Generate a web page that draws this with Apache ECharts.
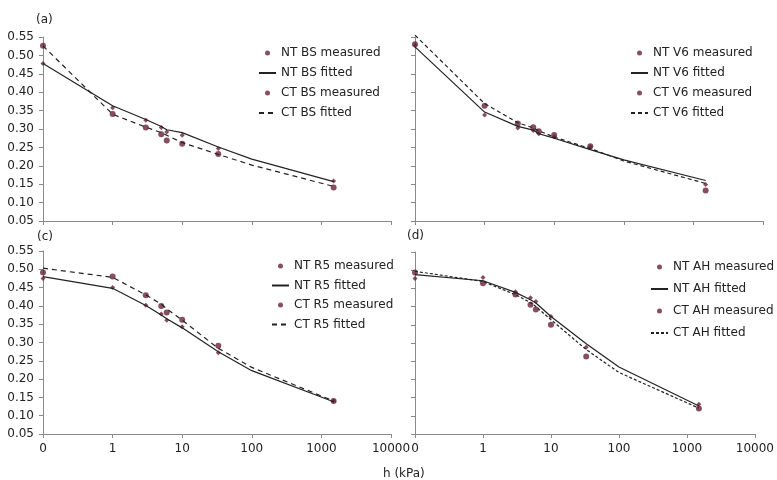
<!DOCTYPE html>
<html>
<head>
<meta charset="utf-8">
<script src="https://cdn.jsdelivr.net/npm/echarts@6/dist/echarts.min.js"></script>
<style>
  html, body { margin: 0; padding: 0; background: #fff; }
  #chart { width: 777px; height: 480px; }
</style>
</head>
<body>
<div id="chart"></div>
<script>
// pressure heads (kPa); 0 is drawn one decade below 1
const hMeasured = [0, 1, 3, 5, 6, 10, 33, 1500]
const hFitted = [0, 1, 3, 5, 6, 10, 33, 100, 1500]

// (a) BS
const ntBsMeasured = [0.478, 0.358, 0.324, 0.304, 0.292, 0.283, 0.247, 0.159]
const ntBsFitted = [0.478, 0.363, 0.326, 0.307, 0.298, 0.290, 0.251, 0.218, 0.157]
const ctBsMeasured = [0.526, 0.341, 0.304, 0.286, 0.269, 0.260, 0.232, 0.141]
const ctBsFitted = [0.526, 0.340, 0.305, 0.290, 0.283, 0.263, 0.231, 0.202, 0.144]

// (b) V6
const ntV6Measured = [0.527, 0.338, 0.303, 0.296, 0.287, 0.279, 0.252, 0.149]
const ntV6Fitted = [0.523, 0.346, 0.307, 0.297, 0.287, 0.275, 0.244, 0.216, 0.160]
const ctV6Measured = [0.530, 0.363, 0.315, 0.305, 0.294, 0.284, 0.253, 0.133]
const ctV6Fitted = [0.555, 0.369, 0.317, 0.303, 0.295, 0.278, 0.247, 0.213, 0.152]

// (c) R5
const ntR5Measured = [0.475, 0.450, 0.402, 0.378, 0.361, 0.343, 0.272, 0.140]
const ntR5Fitted = [0.480, 0.448, 0.401, 0.375, 0.365, 0.340, 0.275, 0.223, 0.138]
const ctR5Measured = [0.491, 0.480, 0.429, 0.400, 0.382, 0.362, 0.291, 0.140]
const ctR5Fitted = [0.503, 0.478, 0.430, 0.405, 0.392, 0.361, 0.284, 0.232, 0.140]

// (d) AH
const ntAhMeasured = [0.477, 0.480, 0.441, 0.424, 0.414, 0.373, 0.288, 0.132]
const ntAhFitted = [0.488, 0.471, 0.439, 0.419, 0.410, 0.373, 0.298, 0.234, 0.127]
const ctAhMeasured = [0.494, 0.464, 0.433, 0.405, 0.392, 0.350, 0.263, 0.120]
const ctAhFitted = [0.497, 0.469, 0.433, 0.411, 0.400, 0.364, 0.282, 0.219, 0.121]

const xTickLabels = ['0', '1', '10', '100', '1000', '10000']

const panels = [
  { code: 'BS', ntM: ntBsMeasured, ntF: ntBsFitted, ctM: ctBsMeasured, ctF: ctBsFitted, dash: [5, 4] },
  { code: 'V6', ntM: ntV6Measured, ntF: ntV6Fitted, ctM: ctV6Measured, ctF: ctV6Fitted, dash: [4, 3] },
  { code: 'R5', ntM: ntR5Measured, ntF: ntR5Fitted, ctM: ctR5Measured, ctF: ctR5Fitted, dash: [5, 4] },
  { code: 'AH', ntM: ntAhMeasured, ntF: ntAhFitted, ctM: ctAhMeasured, ctF: ctAhFitted, dash: [3, 2] },
]

const grids = [
  { left: 43, top: 37, width: 348, height: 184 },
  { left: 415, top: 37, width: 348, height: 184 },
  { left: 43, top: 251, width: 348, height: 183 },
  { left: 415, top: 252, width: 348, height: 182 },
]

const legendPos = [
  { left: 258, top: 47, itemGap: 8 },
  { left: 630, top: 47, itemGap: 8 },
  { left: 271, top: 260, itemGap: 7.5 },
  { left: 650, top: 261, itemGap: 10 },
]

const FONT = 'DejaVu Sans'
const MARK = '#66223a'
const LINE = '#222'
const AXIS = '#8a8a8a'

// log axis can't take 0, so h = 0 sits at 0.1
const toX = (h) => (h === 0 ? 0.1 : h)
const pairs = (hs, vs) => hs.map((h, i) => [toX(h), vs[i]])

const xAxes = grids.map((g, i) => ({
  type: 'log',
  logBase: 10,
  gridIndex: i,
  min: 0.1,
  max: 10000,
  axisLine: { lineStyle: { color: AXIS, width: 1 } },
  axisTick: { show: true, length: 4, lineStyle: { color: AXIS } },
  minorTick: { show: false },
  splitLine: { show: false },
  axisLabel: {
    show: i >= 2,
    margin: 9,
    color: '#222',
    fontFamily: FONT,
    fontSize: 12,
    formatter: (v) => xTickLabels[Math.round(Math.log10(v)) + 1],
  },
}))

const yAxes = grids.map((g, i) => ({
  type: 'value',
  gridIndex: i,
  min: 0.05,
  max: 0.55,
  interval: 0.05,
  axisLine: { show: true, lineStyle: { color: AXIS, width: 1 } },
  axisTick: { show: true, length: 4, lineStyle: { color: AXIS } },
  splitLine: { show: false },
  axisLabel: {
    show: i % 2 === 0,
    margin: 9,
    color: '#222',
    fontFamily: FONT,
    fontSize: 12,
    formatter: (v) => v.toFixed(2),
  },
}))

const noSymbol = { color: 'rgba(0,0,0,0)', borderWidth: 0, opacity: 0 }

const series = []
const legends = []
panels.forEach((p, i) => {
  const names = [
    `NT ${p.code} measured`,
    `NT ${p.code} fitted`,
    `CT ${p.code} measured`,
    `CT ${p.code} fitted`,
  ]
  series.push(
    {
      name: names[1], type: 'line', xAxisIndex: i, yAxisIndex: i,
      data: pairs(hFitted, p.ntF), symbol: 'none', clip: false,
      lineStyle: { color: LINE, width: 1.2 }, itemStyle: { color: LINE },
    },
    {
      name: names[3], type: 'line', xAxisIndex: i, yAxisIndex: i,
      data: pairs(hFitted, p.ctF), symbol: 'none', clip: false,
      lineStyle: { color: LINE, width: 1.2, type: p.dash }, itemStyle: { color: LINE },
    },
    {
      name: names[0], type: 'scatter', xAxisIndex: i, yAxisIndex: i,
      data: pairs(hMeasured, p.ntM), symbol: 'diamond', symbolSize: 5,
      itemStyle: { color: MARK },
    },
    {
      name: names[2], type: 'scatter', xAxisIndex: i, yAxisIndex: i,
      data: pairs(hMeasured, p.ctM), symbol: 'circle', symbolSize: 6,
      itemStyle: { color: MARK },
    }
  )
  legends.push({
    orient: 'vertical',
    left: legendPos[i].left,
    top: legendPos[i].top,
    padding: 0,
    itemGap: legendPos[i].itemGap,
    itemWidth: 17,
    itemHeight: 5,
    selectedMode: false,
    textStyle: { color: '#222', fontFamily: FONT, fontSize: 12 },
    data: [
      { name: names[0], icon: 'circle' },
      { name: names[1], itemStyle: noSymbol },
      { name: names[2], icon: 'circle' },
      { name: names[3], itemStyle: noSymbol },
    ],
  })
})

const titleText = { fontFamily: FONT, fontSize: 12, fontWeight: 'normal', color: '#222' }

const chart = echarts.init(document.getElementById('chart'))
chart.setOption({
  animation: false,
  backgroundColor: '#fff',
  title: [
    { text: '(a)', left: 36, top: 14, padding: 0, textStyle: titleText },
    { text: '(c)', left: 37, top: 231, padding: 0, textStyle: titleText },
    { text: '(d)', left: 407, top: 230, padding: 0, textStyle: titleText },
    { text: 'h (kPa)', left: 383, top: 468, padding: 0, textStyle: titleText },
  ],
  grid: grids,
  xAxis: xAxes,
  yAxis: yAxes,
  legend: legends,
  series: series,
})
</script>
</body>
</html>
